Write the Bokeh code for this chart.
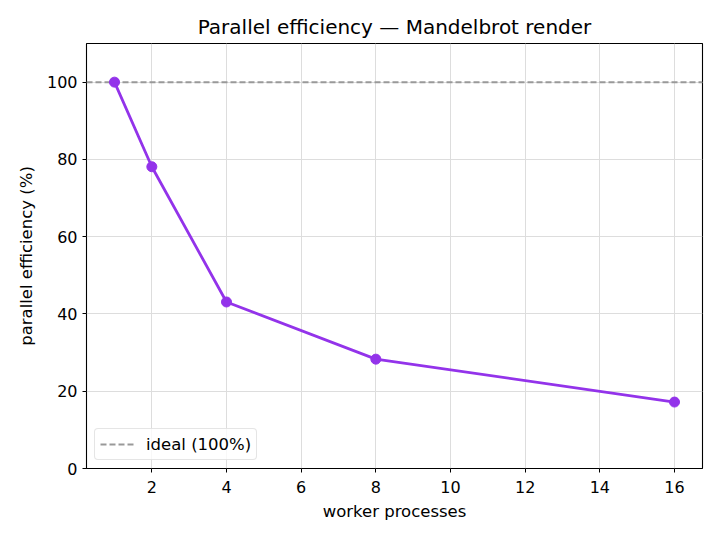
from bokeh.plotting import figure
from bokeh.models import Range1d, FixedTicker, Legend, LegendItem
from bokeh.embed import file_html
from bokeh.resources import INLINE

workers = [1, 2, 4, 8, 16]
efficiency = [100.0, 78.1, 43.1, 28.3, 17.2]
ideal_value = 100
x_ticks = [2, 4, 6, 8, 10, 12, 14, 16]
y_ticks = [0, 20, 40, 60, 80, 100]

FONT = "DejaVu Sans"

p = figure(width=720, height=540, output_backend="svg", toolbar_location=None,
           x_range=Range1d(0.25, 16.75), y_range=Range1d(0, 110),
           min_border_left=86, min_border_right=18, min_border_top=43, min_border_bottom=72)

p.title.text = "Parallel efficiency \u2014 Mandelbrot render"
p.title.align = "center"
p.title.text_font = FONT
p.title.text_font_size = "20px"
p.title.text_font_style = "normal"
p.title.text_color = "black"

p.outline_line_color = "black"
p.outline_line_width = 1.1
p.background_fill_color = "white"
p.border_fill_color = "white"

for ax in (p.xaxis, p.yaxis):
    ax.axis_line_color = None
    ax.major_tick_line_color = "black"
    ax.major_tick_out = 4
    ax.major_tick_in = 0
    ax.minor_tick_line_color = None
    ax.major_label_text_font = FONT
    ax.major_label_text_font_size = "16px"
    ax.major_label_text_color = "black"
    ax.axis_label_text_font = FONT
    ax.axis_label_text_font_size = "16.5px"
    ax.axis_label_text_font_style = "normal"
    ax.axis_label_text_color = "black"

p.xaxis.ticker = FixedTicker(ticks=x_ticks)
p.yaxis.ticker = FixedTicker(ticks=y_ticks)
p.xaxis.axis_label = "worker processes"
p.yaxis.axis_label = "parallel efficiency (%)"
p.xaxis.major_label_standoff = 8
p.xaxis.axis_label_standoff = 6
p.yaxis.axis_label_standoff = 8

p.xgrid.ticker = FixedTicker(ticks=x_ticks)
p.ygrid.ticker = FixedTicker(ticks=y_ticks)
for g in (p.xgrid, p.ygrid):
    g.grid_line_color = "#dddddd"
    g.grid_line_width = 1

ideal = p.line(x=[0.25, 16.75], y=[ideal_value, ideal_value], line_color="#999999",
               line_width=2, line_dash="6 3")

color = "#9333ea"
p.line(x=workers, y=efficiency, line_color=color, line_width=2.8)
p.scatter(x=workers, y=efficiency, size=10, fill_color=color, line_color=color)

legend = Legend(items=[LegendItem(label="ideal (100%)", renderers=[ideal])],
                location="bottom_left")
legend.label_text_font = FONT
legend.label_text_font_size = "16.5px"
legend.label_text_color = "black"
legend.border_line_color = "#cccccc"
legend.border_line_width = 1
legend.border_radius = 4
legend.background_fill_alpha = 0.8
legend.margin = 8
legend.padding = 5
legend.glyph_width = 34
legend.label_standoff = 12
p.add_layout(legend)

open("out.html", "w").write(file_html(p, INLINE))
